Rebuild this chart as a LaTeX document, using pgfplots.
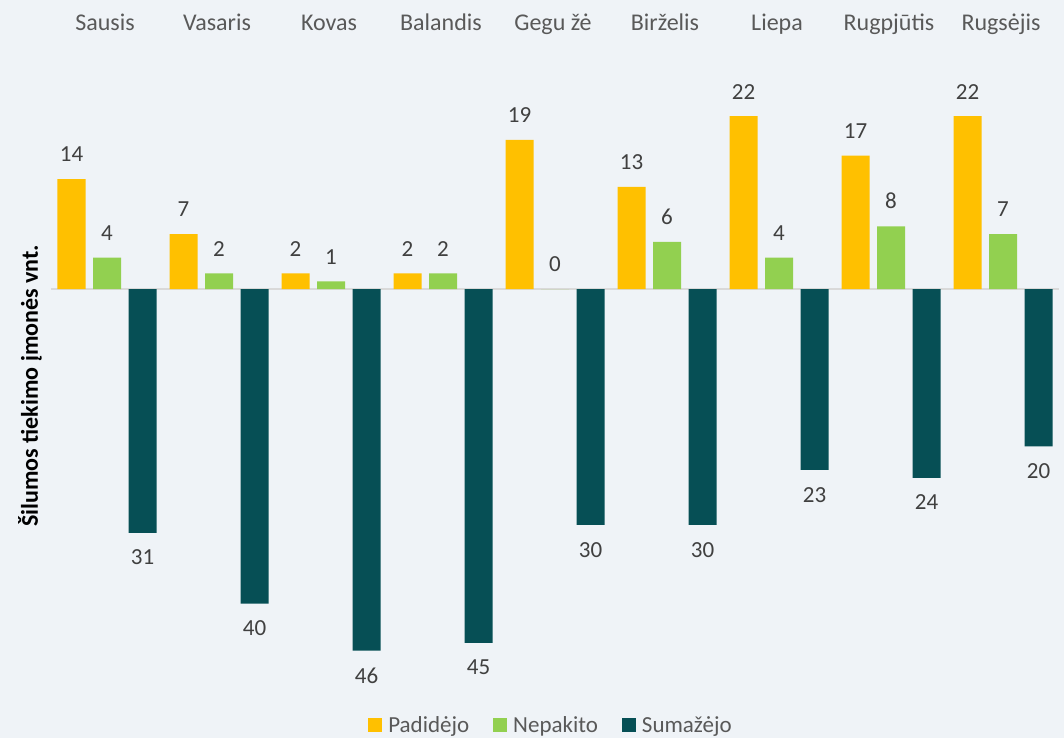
\documentclass[border=0pt]{standalone}
\usepackage{pgfplots}
\pgfplotsset{compat=1.18}
\usepackage{fontspec}
\setmainfont{Carlito}
\definecolor{bg}{HTML}{EFF3F7}
\definecolor{cyel}{HTML}{FFC000}
\definecolor{cgrn}{HTML}{92D050}
\definecolor{cteal}{HTML}{064F55}
\definecolor{txtgray}{HTML}{595959}
\definecolor{labgray}{HTML}{404040}
\definecolor{zline}{HTML}{D9D9D9}
\pgfplotsset{sqleg/.style={legend image code/.code={\fill[##1] (0pt,-7pt) rectangle (14pt,7pt);}}}
\begin{document}
\begin{tikzpicture}
\fill[bg] (0,0) rectangle (1064pt,738pt);
\useasboundingbox (0,0) rectangle (1064pt,738pt);
\begin{axis}[
  at={(51pt,48pt)}, anchor=south west,
  scale only axis, width=1008pt, height=644.5pt,
  xmin=-0.5, xmax=8.5, ymin=-51, ymax=31,
  clip=false,
  axis line style={draw=none},
  ytick=\empty,
  xtick={0,...,8},
  xticklabels={Sausis,Vasaris,Kovas,Balandis,Gegu žė,Birželis,Liepa,Rugpjūtis,Rugsėjis},
  xticklabel pos=right,
  major tick length=0pt,
  xticklabel style={font=\fontsize{24}{28}\selectfont, text=txtgray, anchor=base, yshift=15pt, xshift=-2pt},
  extra y ticks={0}, extra y tick labels={},
  extra y tick style={grid=major, major grid style={color=zline, line width=2pt}},
  ybar=7.5pt, bar width=28pt,
  point meta=explicit symbolic,
  nodes near coords,
  every node near coord/.append style={font=\fontsize{23}{27}\selectfont, text=labgray, inner ysep=17pt},
  ylabel={Šilumos tiekimo įmonės vnt.},
  ylabel style={at={(axis description cs:-0.0208,0.472)}, anchor=center, rotate=0, font=\bfseries\fontsize{24}{28}\selectfont, text=black},
  legend columns=3,
  legend style={at={(0.496,-0.054)}, anchor=center, draw=none, fill=none,
    font=\fontsize{23}{27}\selectfont, text=txtgray,
    /tikz/every odd column/.append style={column sep=4pt},
    /tikz/every even column/.append style={column sep=22pt}},
]
\addplot[fill=cyel, draw=none, sqleg] table[meta=lab] {
x y lab
0 14 14
1 7 7
2 2 2
3 2 2
4 19 19
5 13 13
6 22 22
7 17 17
8 22 22
};
\addlegendentry{Padidėjo}
\addplot[fill=cgrn, draw=none, sqleg] table[meta=lab] {
x y lab
0 4 4
1 2 2
2 1 1
3 2 2
4 0 0
5 6 6
6 4 4
7 8 8
8 7 7
};
\addlegendentry{Nepakito}
\addplot[fill=cteal, draw=none, sqleg, every node near coord/.append style={anchor=north}] table[meta=lab] {
x y lab
0 -31 31
1 -40 40
2 -46 46
3 -45 45
4 -30 30
5 -30 30
6 -23 23
7 -24 24
8 -20 20
};
\addlegendentry{Sumažėjo}
\end{axis}
\end{tikzpicture}
\end{document}
